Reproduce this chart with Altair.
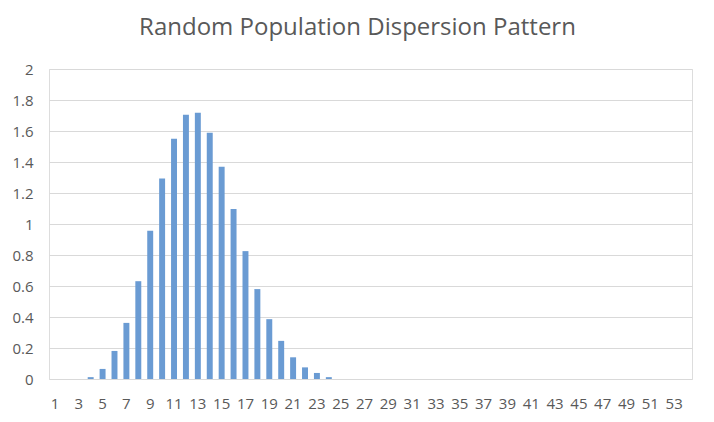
import altair as alt
import pandas as pd

categories = list(range(1, 55))
bar_values = {
    4: 0.012, 5: 0.065, 6: 0.181, 7: 0.362, 8: 0.631, 9: 0.957,
    10: 1.293, 11: 1.550, 12: 1.705, 13: 1.718, 14: 1.588, 15: 1.369,
    16: 1.097, 17: 0.825, 18: 0.580, 19: 0.386, 20: 0.246, 21: 0.140,
    22: 0.075, 23: 0.039, 24: 0.012,
}
values = [bar_values.get(c, 0.0) for c in categories]
tick_labels = list(range(1, 54, 2))
y_ticks = [0, 0.2, 0.4, 0.6, 0.8, 1.0, 1.2, 1.4, 1.6, 1.8, 2.0]

df = pd.DataFrame({"cat": categories, "value": values})

text_color = "#595959"
font = "Open Sans"

chart = alt.Chart(df).mark_bar(color="#6a9bd3").encode(
    x=alt.X(
        "cat:O",
        sort=categories,
        scale=alt.Scale(paddingInner=0.5, paddingOuter=0.25),
        axis=alt.Axis(
            title=None, values=tick_labels, labelAngle=0, domain=False,
            ticks=False, labelPadding=17, labelFontSize=15, labelColor=text_color,
            labelFont=font, labelOverlap=False, grid=False,
        ),
    ),
    y=alt.Y(
        "value:Q",
        scale=alt.Scale(domain=[0, 2], nice=False),
        axis=alt.Axis(
            title=None, values=y_ticks, domain=False, ticks=False,
            labelPadding=16, labelFontSize=15, labelColor=text_color,
            labelFont=font, gridColor="#d9d9d9", gridWidth=1,
            labelExpr="format(datum.value, '~g')",
        ),
    ),
).properties(
    width=643,
    height=310,
    title=alt.TitleParams(
        "Random Population Dispersion Pattern",
        fontSize=24, font=font, fontWeight="normal", color=text_color,
        anchor="middle", dx=-13, offset=22,
    ),
    autosize=alt.AutoSizeParams(type="none"),
    padding={"left": 41, "top": 61, "right": 14, "bottom": 35},
).configure_view(stroke=None).configure(background="white")

chart.save("out.html", embed_options={"renderer": "svg", "actions": False})
